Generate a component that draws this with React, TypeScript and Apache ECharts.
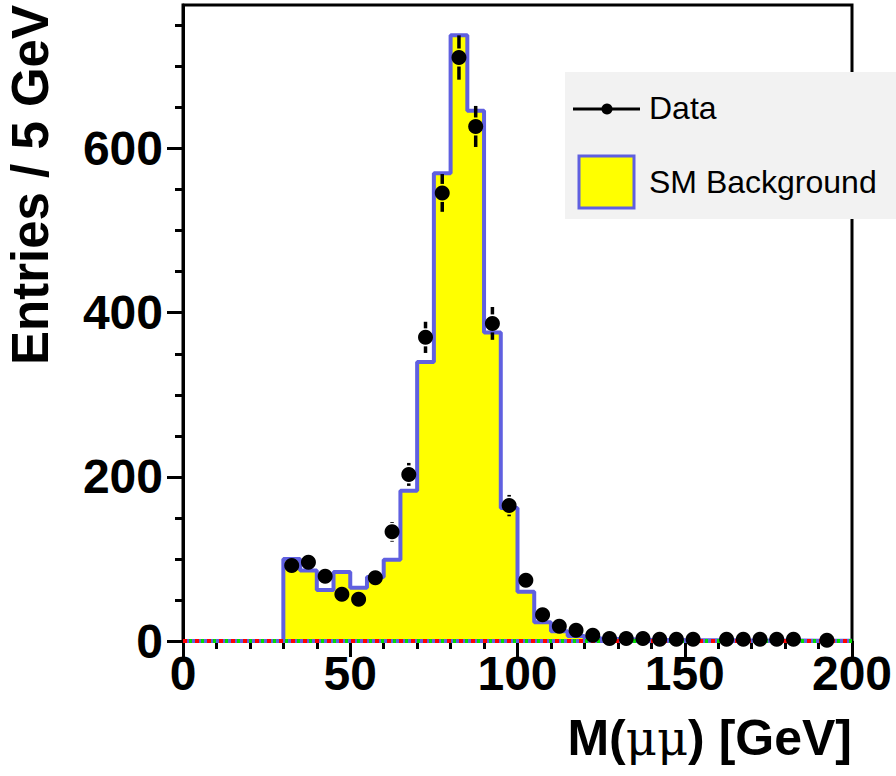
import React, { useEffect, useRef } from "react";
import * as echarts from "echarts";

// ---- data ----
const binLowEdges = [30, 35, 40, 45, 50, 55, 60, 65, 70, 75, 80, 85, 90, 95, 100, 105, 110, 115, 120, 125, 130, 135, 140, 145, 150, 155, 160, 165, 170, 175, 180, 185, 190, 195];
const histUpperEdge = 200;
const backgroundCounts = [100, 86, 62, 84, 65, 78, 99, 183, 340, 570, 738, 646, 376, 162, 60, 23, 12, 6, 3.5, 2.5, 2, 1.6, 1.3, 1.1, 1, 0.9, 0.8, 0.7, 0.6, 0.5, 0.5, 0.4, 0.4, 0.3];

const dataCenters = [32.5, 37.5, 42.5, 47.5, 52.5, 57.5, 62.5, 67.5, 72.5, 77.5, 82.5, 87.5, 92.5, 97.5, 102.5, 107.5, 112.5, 117.5, 122.5, 127.5, 132.5, 137.5, 142.5, 147.5, 152.5, 162.5, 167.5, 172.5, 177.5, 182.5, 192.5];
const dataCounts = [92, 96, 79, 57, 51, 77, 133, 203, 370, 546, 711, 627, 387, 165, 74, 32, 18, 13, 7, 3, 3, 3, 2, 2, 2, 2, 2, 2, 2, 2, 1];
const dataErrors = [10, 10, 9, 8, 7, 9, 12, 14, 19, 23, 27, 25, 20, 13, 9, 6, 4, 4, 3, 2, 2, 2, 1, 1, 1, 1, 1, 1, 1, 1, 1];

const signalEdges = [0, 200];
const signalCounts = [0, 0];

const xMajorTicks = [0, 50, 100, 150, 200];
const xMinorTicks = [10, 20, 30, 40, 60, 70, 80, 90, 110, 120, 130, 140, 160, 170, 180, 190];
const yMajorTicks = [0, 200, 400, 600];
const yMinorTicks = [50, 100, 150, 250, 300, 350, 450, 500, 550, 650, 700, 750];

const yTitle = "Entries / 5 GeV";
const legendData = "Data";
const legendBkg = "SM Background";

const FONT = "Liberation Sans, Arial, Helvetica, sans-serif";

export default function App() {
  const ref = useRef<HTMLDivElement>(null);
  useEffect(() => {
    if (!ref.current) return;
    const chart = echarts.init(ref.current, null, { renderer: "svg" });

    const histData: number[][] = [[binLowEdges[0], 0]];
    binLowEdges.forEach((e, i) => histData.push([e, backgroundCounts[i]]));
    histData.push([histUpperEdge, backgroundCounts[backgroundCounts.length - 1]]);

    const pointData = dataCenters.map((c, i) => [c, dataCounts[i], dataErrors[i]]);
    const sigData = signalEdges.map((e, i) => [e, signalCounts[i]]);

    const markerR = 7.5;
    const blue = "#6060e0";
    const tickLine = { color: "#000", width: 3 };

    const option: any = {
      animation: false,
      backgroundColor: "#fff",
      grid: {
        left: 183,
        right: 44,
        top: 5,
        bottom: 135,
        show: true,
        borderColor: "#000",
        borderWidth: 3,
        backgroundColor: "#fff",
      },
      xAxis: [
        {
          type: "value",
          min: 0,
          max: 200,
          position: "bottom",
          axisLine: { show: true, onZero: false, lineStyle: tickLine },
          axisTick: { show: true, inside: false, length: 16, lineStyle: tickLine, customValues: xMajorTicks },
          axisLabel: {
            customValues: xMajorTicks,
            fontSize: 48,
            fontWeight: "bold",
            fontFamily: FONT,
            color: "#000",
            margin: 8,
          },
          splitLine: { show: false },
        },
        {
          type: "value",
          min: 0,
          max: 200,
          position: "bottom",
          axisLine: { show: false },
          axisTick: { show: true, inside: false, length: 8, lineStyle: tickLine, customValues: xMinorTicks },
          axisLabel: { show: false },
          splitLine: { show: false },
        },
      ],
      yAxis: [
        {
          type: "value",
          min: 0,
          max: 775,
          position: "left",
          axisLine: { show: true, onZero: false, lineStyle: tickLine },
          axisTick: { show: true, inside: false, length: 16, lineStyle: tickLine, customValues: yMajorTicks },
          axisLabel: {
            customValues: yMajorTicks,
            fontSize: 48,
            fontWeight: "bold",
            fontFamily: FONT,
            color: "#000",
            margin: 20,
          },
          splitLine: { show: false },
        },
        {
          type: "value",
          min: 0,
          max: 775,
          position: "left",
          axisLine: { show: false },
          axisTick: { show: true, inside: false, length: 8, lineStyle: tickLine, customValues: yMinorTicks },
          axisLabel: { show: false },
          splitLine: { show: false },
        },
      ],
      series: [
        {
          name: legendBkg,
          type: "line",
          step: "end",
          data: histData,
          symbol: "none",
          lineStyle: { color: blue, width: 4 },
          areaStyle: { color: "#ffff00", opacity: 1 },
          z: 2,
        },
        {
          type: "line",
          data: sigData,
          symbol: "none",
          lineStyle: { color: blue, width: 4 },
          z: 3,
        },
        {
          type: "line",
          data: sigData,
          symbol: "none",
          lineStyle: { color: "#ff0000", width: 4, type: [4, 8], dashOffset: 0 },
          z: 3,
        },
        {
          type: "line",
          data: sigData,
          symbol: "none",
          lineStyle: { color: "#00dd00", width: 4, type: [3, 9], dashOffset: 6 },
          z: 3,
        },
        {
          type: "custom",
          data: pointData,
          z: 4,
          renderItem: (params: any, api: any) => {
            const x = api.value(0);
            const y = api.value(1);
            const e = api.value(2);
            const c = api.coord([x, y]);
            const top = api.coord([x, y + e]);
            const bot = api.coord([x, y - e]);
            const children: any[] = [];
            const gap = markerR + 1.5;
            if (c[1] - top[1] > gap) {
              children.push({
                type: "line",
                shape: { x1: c[0], y1: top[1], x2: c[0], y2: c[1] - gap },
                style: { stroke: "#000", lineWidth: 3.5 },
              });
            }
            if (bot[1] - c[1] > gap) {
              children.push({
                type: "line",
                shape: { x1: c[0], y1: c[1] + gap, x2: c[0], y2: bot[1] },
                style: { stroke: "#000", lineWidth: 3.5 },
              });
            }
            return { type: "group", children };
          },
        },
        {
          name: legendData,
          type: "scatter",
          data: pointData.map((p) => [p[0], p[1]]),
          symbol: "circle",
          symbolSize: markerR * 2,
          itemStyle: { color: "#000", opacity: 1 },
          z: 5,
        },
      ],
      graphic: [
        {
          type: "text",
          x: 30,
          y: 5,
          rotation: Math.PI / 2,
          style: {
            text: yTitle,
            fontSize: 51,
            fontWeight: "bold",
            fontFamily: FONT,
            fill: "#000",
            align: "right",
            verticalAlign: "middle",
          },
        },
        {
          type: "text",
          x: 852,
          y: 738,
          style: {
            text: "{b|M(}{m|μμ}{b|) [GeV]}",
            align: "right",
            verticalAlign: "middle",
            rich: {
              b: { fontSize: 50, fontWeight: "bold", fontFamily: FONT, fill: "#000" },
              m: { fontSize: 48, fontWeight: "normal", fontFamily: "DejaVu Serif, serif", fill: "#000" },
            },
          },
        },
        {
          type: "group",
          z: 100,
          children: [
            { type: "rect", shape: { x: 565, y: 72, width: 331, height: 147 }, style: { fill: "#f2f2f2" } },
            { type: "line", shape: { x1: 573, y1: 109, x2: 640, y2: 109 }, style: { stroke: "#000", lineWidth: 3 } },
            { type: "circle", shape: { cx: 607, cy: 109, r: 5.5 }, style: { fill: "#000" } },
            {
              type: "text",
              x: 649,
              y: 108,
              style: { text: legendData, fontSize: 32, fontFamily: FONT, fill: "#000", align: "left", verticalAlign: "middle" },
            },
            {
              type: "rect",
              shape: { x: 579, y: 156, width: 55, height: 52 },
              style: { fill: "#ffff00", stroke: blue, lineWidth: 3 },
            },
            {
              type: "text",
              x: 649,
              y: 182,
              style: { text: legendBkg, fontSize: 32, fontFamily: FONT, fill: "#000", align: "left", verticalAlign: "middle" },
            },
          ],
        },
      ],
    };

    chart.setOption(option);
    return () => chart.dispose();
  }, []);

  return <div ref={ref} style={{ width: 896, height: 776, position: "absolute", left: 0, top: 0 }} />;
}
